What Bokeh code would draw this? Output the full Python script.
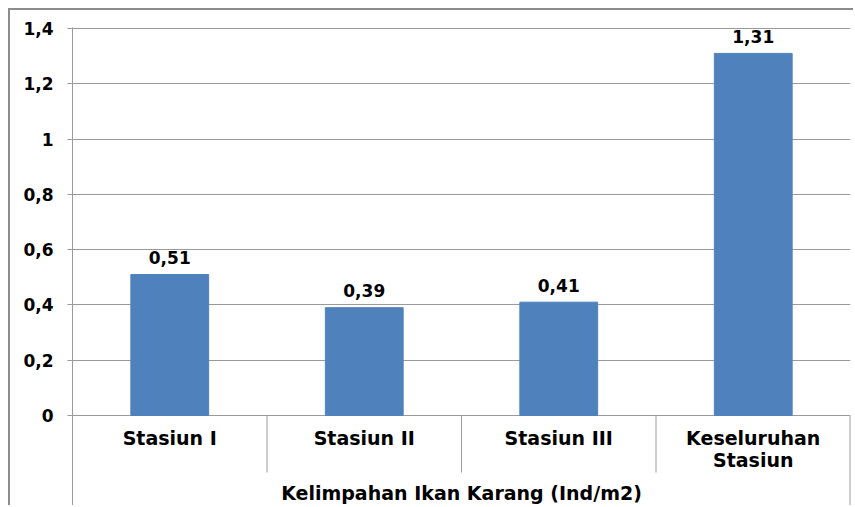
from bokeh.plotting import figure
from bokeh.models import FactorRange, Range1d, FixedTicker, CustomJSTickFormatter, ColumnDataSource
from bokeh.core.properties import value
from bokeh.embed import file_html
from bokeh.resources import INLINE

categories = ["Stasiun I", "Stasiun II", "Stasiun III", "Keseluruhan\nStasiun"]
values = [0.51, 0.39, 0.41, 1.31]
value_labels = ["0,51", "0,39", "0,41", "1,31"]
y_ticks = [0, 0.2, 0.4, 0.6, 0.8, 1.0, 1.2, 1.4]
group_label = "Kelimpahan Ikan Karang (Ind/m2)"

BAR = "#4F81BD"
GRID = "#9a9a9a"
FONT = value("DejaVu Sans")

px_per_unit = 387 / 1.4
y_bottom = -92 / px_per_unit
y_top = 1.4 + 1 / px_per_unit
sep_bottom = -57 / px_per_unit

p = figure(
    x_range=FactorRange(factors=categories),
    y_range=Range1d(y_bottom, y_top),
    width=845, height=497,
    output_backend="svg", toolbar_location=None,
    x_axis_location=None,
    min_border_left=62, min_border_right=5, min_border_top=17, min_border_bottom=0,
    styles={"margin-left": "8px", "margin-top": "8px",
            "border-top": "2px solid #8c8c8c", "border-left": "2px solid #8c8c8c"},
)
p.outline_line_color = None
p.background_fill_color = "white"
p.border_fill_color = "white"

ax = p.yaxis[0]
ax.ticker = FixedTicker(ticks=y_ticks)
ax.formatter = CustomJSTickFormatter(code="return String(Math.round(tick*10)/10).replace('.', ',');")
ax.major_label_text_font = "DejaVu Sans"
ax.major_label_text_font_style = "bold"
ax.major_label_text_font_size = "17px"
ax.major_label_text_color = "black"
ax.axis_line_color = GRID
ax.major_tick_line_color = GRID
ax.major_tick_out = 5
ax.major_tick_in = 0
ax.minor_tick_line_color = None
ax.major_label_standoff = 14

p.xgrid.visible = False
p.ygrid.ticker = FixedTicker(ticks=y_ticks)
p.ygrid.grid_line_color = GRID

src = ColumnDataSource(dict(cat=categories, val=values, lab=value_labels))
p.vbar(x="cat", top="val", width=0.4, source=src, color=BAR)

p.text(x="cat", y="val", text="lab", source=src, y_offset=-17,
       text_align="center", text_baseline="alphabetic",
       text_font=FONT, text_font_style="bold", text_font_size="17px", text_color="black")

p.text(x="cat", y=0, text="cat", source=src, y_offset=11,
       text_align="center", text_baseline="top",
       text_font=FONT, text_font_style="bold", text_font_size="19px", text_color="black",
       text_line_height=1.0)

seps = [(c, 0.5) for c in categories[:-1]]
p.segment(x0=seps, x1=seps, y0=[0] * len(seps), y1=[sep_bottom] * len(seps), line_color=GRID, line_width=1)
end = [(categories[-1], 0.5)]
p.segment(x0=end, x1=end, y0=[0], y1=[y_bottom], line_color=GRID, line_width=2)

p.text(x=[(categories[1], 0.5)], y=[0], text=[group_label], y_offset=77,
       text_align="center", text_baseline="alphabetic",
       text_font=FONT, text_font_style="bold", text_font_size="19px", text_color="black")

open("out.html", "w").write(file_html(p, INLINE))
